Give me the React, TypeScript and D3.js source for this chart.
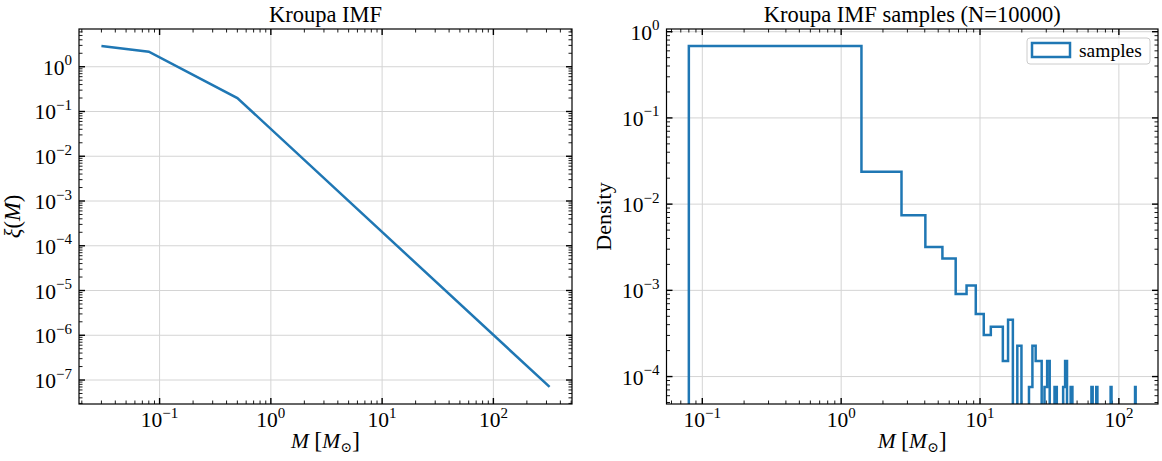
import * as d3 from "d3";

// Kroupa IMF curve (break points of the broken power law)
const imfMass = [0.03, 0.08, 0.5, 320];
const imfXi = [2.9, 2.17, 0.2, 7.0e-8];

// histogram of the samples (linear bins, only non-empty bins listed)
const nSamples = 10000;
const binStart = 0.08;
const binWidth = 1.32;
const binTotal = 100;
const binIndex = [0, 1, 2, 3, 4, 5, 6, 7, 8, 9, 10, 11, 12, 14, 17, 18, 19, 20, 22, 23, 26, 30, 31, 34, 48, 52, 66, 99];
const binCount = [9000, 313, 98, 42, 31, 12, 15, 7, 4, 5, 5, 2, 6, 3, 1, 3, 2, 2, 1, 2, 1, 1, 2, 1, 1, 1, 1, 1];

const xTicks = [0.1, 1, 10, 100];
const yTicksLeft = [1, 1e-1, 1e-2, 1e-3, 1e-4, 1e-5, 1e-6, 1e-7];
const yTicksRight = [1, 1e-1, 1e-2, 1e-3, 1e-4];

const W = 1162, H = 461;
const FONT = "'Liberation Serif', 'DejaVu Serif', serif";
const BLUE = "#1f77b4";

// matplotlib-like 5% margin in log space
function logPad(lo: number, hi: number) {
  const a = Math.log10(lo), b = Math.log10(hi), m = (b - a) * 0.05;
  return [Math.pow(10, a - m), Math.pow(10, b + m)];
}

function minorTicks(domain: number[]) {
  const out: number[] = [];
  const lo = Math.floor(Math.log10(domain[0])), hi = Math.ceil(Math.log10(domain[1]));
  for (let e = lo; e <= hi; e++)
    for (let s = 2; s <= 9; s++) {
      const v = s * Math.pow(10, e);
      if (v >= domain[0] && v <= domain[1]) out.push(v);
    }
  return out;
}

function Pow({ e, x, y, anchor }: { e: number; x: number; y: number; anchor: string }) {
  const ex = e < 0 ? "\u2212" + Math.abs(e) : String(e);
  return (
    <text x={x} y={y} textAnchor={anchor} fontSize={21.5} fontFamily={FONT}>
      10<tspan dy={-9.5} fontSize={15}>{ex}</tspan>
    </text>
  );
}

function Frame({ x, y, id, yTicks }: any) {
  const [l, r] = x.range();
  const [b, t] = y.range();
  const xMin = minorTicks(x.domain());
  const yMin = minorTicks(y.domain());
  return (
    <g>
      <defs>
        <clipPath id={id}><rect x={l} y={t} width={r - l} height={b - t} /></clipPath>
      </defs>
      <g stroke="#d4d4d4" strokeWidth={1}>
        {xTicks.map((v) => <line key={v} x1={x(v)} x2={x(v)} y1={t} y2={b} />)}
        {yTicks.map((v: number) => <line key={v} x1={l} x2={r} y1={y(v)} y2={y(v)} />)}
      </g>
      <g stroke="#000">
        {xTicks.map((v) => (
          <g key={v} strokeWidth={1.4}>
            <line x1={x(v)} x2={x(v)} y1={b} y2={b - 6} />
            <line x1={x(v)} x2={x(v)} y1={t} y2={t + 6} />
          </g>
        ))}
        {yTicks.map((v: number) => (
          <g key={v} strokeWidth={1.4}>
            <line x1={l} x2={l + 6} y1={y(v)} y2={y(v)} />
            <line x1={r} x2={r - 6} y1={y(v)} y2={y(v)} />
          </g>
        ))}
        {xMin.map((v) => (
          <g key={v} strokeWidth={0.9}>
            <line x1={x(v)} x2={x(v)} y1={b} y2={b - 3.5} />
            <line x1={x(v)} x2={x(v)} y1={t} y2={t + 3.5} />
          </g>
        ))}
        {yMin.map((v) => (
          <g key={v} strokeWidth={0.9}>
            <line x1={l} x2={l + 3.5} y1={y(v)} y2={y(v)} />
            <line x1={r} x2={r - 3.5} y1={y(v)} y2={y(v)} />
          </g>
        ))}
      </g>
      {xTicks.map((v) => (
        <Pow key={v} e={Math.round(Math.log10(v))} x={x(v)} y={b + 23} anchor="middle" />
      ))}
      {yTicks.map((v: number) => (
        <Pow key={v} e={Math.round(Math.log10(v))} x={l - 7} y={y(v) + 8} anchor="end" />
      ))}
    </g>
  );
}

function XLabel({ cx }: { cx: number }) {
  return (
    <text x={cx} y={448} textAnchor="middle" fontSize={21.5} fontFamily={FONT}>
      <tspan fontStyle="italic">M</tspan> <tspan fontSize={24}>[</tspan><tspan fontStyle="italic">M</tspan>
      <tspan dy={4} fontSize={14}>{"\u2299"}</tspan>
      <tspan dy={-4} fontSize={24}>]</tspan>
    </text>
  );
}

export default function App() {
  const top = 29, bottom = 404;

  // left panel
  const xL = d3.scaleLog().domain(logPad(d3.min(imfMass)!, d3.max(imfMass)!)).range([79, 572]);
  const yL = d3.scaleLog().domain(logPad(d3.min(imfXi)!, d3.max(imfXi)!)).range([bottom, top]);
  const imfLine = d3.line<number>().x((m) => xL(m)).y((_, i) => yL(imfXi[i]));

  // right panel
  const counts = new Array(binTotal).fill(0);
  binIndex.forEach((k, i) => (counts[k] = binCount[i]));
  const edges = d3.range(binTotal + 1).map((k) => binStart + k * binWidth);
  const dens = counts.map((c) => c / (nSamples * binWidth));
  const pos = dens.filter((d) => d > 0);
  const xR = d3.scaleLog().domain(logPad(edges[0], edges[binTotal])).range([666.5, 1158]);
  const yR = d3.scaleLog().domain(logPad(d3.min(pos)!, d3.max(pos)!)).range([bottom, top]);
  const below = bottom + 30;
  const pts: [number, number][] = [[xR(edges[0]), below]];
  dens.forEach((d, k) => {
    const yy = d > 0 ? yR(d) : below;
    pts.push([xR(edges[k]), yy], [xR(edges[k + 1]), yy]);
  });
  pts.push([xR(edges[binTotal]), below]);
  const stepPath = d3.line()(pts);

  const lgX = 1027, lgY = 38;

  return (
    <svg width={W} height={H} style={{ position: "absolute", left: 0, top: 0, background: "#fff" }}>
      {/* left: IMF */}
      <Frame x={xL} y={yL} id="clipL" yTicks={yTicksLeft} />
      <path d={imfLine(imfMass)!} fill="none" stroke={BLUE} strokeWidth={2.5} clipPath="url(#clipL)" />
      <rect x={79} y={top} width={572 - 79} height={bottom - top} fill="none" stroke="#000" strokeWidth={1.2} />
      <text x={(79 + 572) / 2} y={22} textAnchor="middle" fontSize={22.5} fontFamily={FONT}>Kroupa IMF</text>
      <XLabel cx={(79 + 572) / 2} />
      <text transform={`translate(20,${(top + bottom) / 2}) rotate(-90)`} textAnchor="middle" fontSize={22.5} fontFamily={FONT}>
        <tspan fontStyle="italic">{"\u03be"}</tspan>(<tspan fontStyle="italic">M</tspan>)
      </text>

      {/* right: histogram */}
      <Frame x={xR} y={yR} id="clipR" yTicks={yTicksRight} />
      <path d={stepPath!} fill="none" stroke={BLUE} strokeWidth={2.5} strokeLinejoin="miter" clipPath="url(#clipR)" />
      <rect x={666.5} y={top} width={1158 - 666.5} height={bottom - top} fill="none" stroke="#000" strokeWidth={1.2} />
      <text x={(666.5 + 1158) / 2} y={22} textAnchor="middle" fontSize={22.5} fontFamily={FONT}>Kroupa IMF samples (N=10000)</text>
      <XLabel cx={(666.5 + 1158) / 2} />
      <text transform={`translate(611,${(top + bottom) / 2}) rotate(-90)`} textAnchor="middle" fontSize={22} fontFamily={FONT}>Density</text>

      <g>
        <rect x={lgX} y={lgY} width={123} height={26} rx={3} fill="#fff" fillOpacity={0.8} stroke="#cccccc" strokeWidth={1} />
        <rect x={lgX + 5} y={lgY + 5} width={38} height={14} fill="none" stroke={BLUE} strokeWidth={2.5} />
        <text x={lgX + 52} y={lgY + 19} fontSize={19.5} fontFamily={FONT}>samples</text>
      </g>
    </svg>
  );
}
